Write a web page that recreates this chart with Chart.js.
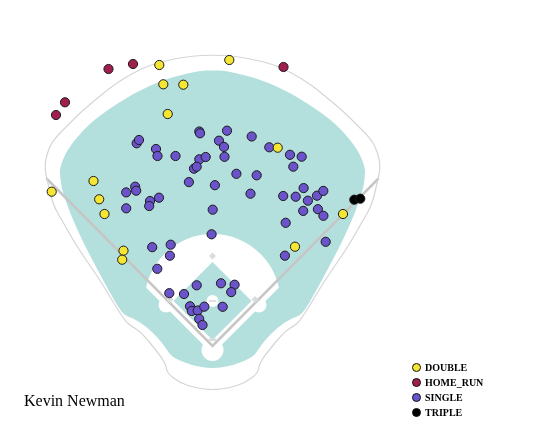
<!DOCTYPE html>
<html>
<head>
<meta charset="utf-8">
<script src="https://cdn.jsdelivr.net/npm/chart.js@4.4.1/dist/chart.umd.min.js"></script>
<style>
  html, body { margin: 0; padding: 0; background: #fff; }
  #wrap { position: relative; width: 552px; height: 425px; }
  #title { position: absolute; left: 24px; top: 393px; font: 16px "Liberation Serif", "Times New Roman", serif; line-height: 16px; color: #000; }
  #legend { position: absolute; left: 412px; top: 359.5px; font: bold 10px "Liberation Serif", "Times New Roman", serif; color: #000; }
  .row { height: 15px; line-height: 15px; white-space: nowrap; }
  .dot { display: inline-block; width: 7px; height: 7px; border: 1px solid #111; border-radius: 50%; vertical-align: -1px; margin-right: 4px; }
</style>
</head>
<body>
<div id="wrap">
  <canvas id="spray" width="552" height="425"></canvas>
  <div id="title"></div>
  <div id="legend"></div>
</div>
<script>
const playerName = 'Kevin Newman';
const eventTypes = ['DOUBLE', 'HOME_RUN', 'SINGLE', 'TRIPLE'];
const eventColors = ['#f6e634', '#a01f4e', '#6a53cb', '#000000'];

// hit locations (x, y)
const doubles = [
  [159.3, 65], [229.3, 60], [163.3, 84.3], [183.3, 84.7], [167.7, 114],
  [51.7, 191.7], [93.5, 181], [99.2, 199.3], [104.5, 214], [277.7, 147.7],
  [343, 214], [295, 246.7], [123.5, 250.7], [122.2, 259.7]
];
const homeRuns = [[108.5, 69], [133, 64], [65, 102.3], [56, 115], [283.5, 67]];
const singles = [
  [136.7, 143.3], [139, 140], [156, 149], [157.5, 156], [175.5, 156],
  [199.3, 131.5], [200, 133.3], [227, 130.7], [219, 140.7], [224, 146.9],
  [224.5, 156.8], [199.3, 159.3], [205.7, 157], [194, 168.7], [196.7, 166.7],
  [236.4, 173.8], [188.9, 182.1], [214.9, 185.2], [135.2, 186.7], [136.2, 190.7],
  [126.2, 192.4], [150, 201], [149.2, 206], [159, 197.7], [126.2, 208.3],
  [212.7, 209.7], [211.6, 234.3], [152.2, 247.2], [170.7, 244.7], [169.9, 255.7],
  [157.3, 268.8],
  [251.7, 136.5], [269.3, 147.3], [290, 154.8], [301.7, 156.7], [293.3, 166.7],
  [256.7, 175.3], [250.5, 193.7], [283.2, 196], [295.7, 196.7], [303.6, 188.1],
  [307.9, 200.7], [317, 195.7], [323.3, 190.9], [303.2, 210.9], [317.9, 209.2],
  [323.4, 215.8], [285.7, 222.8], [325.7, 241.8], [284.9, 255.7],
  [169.3, 293.2], [184, 294], [196.7, 285.3], [221, 283.3], [234.6, 284.7],
  [231.2, 292.1], [190, 306.3], [191.8, 311], [197.7, 310.5], [204.3, 306.7],
  [199.2, 318.9], [202.5, 325], [222.7, 306.8]
];
const triples = [[354.3, 199.7], [360.3, 198.7]];
const hitsByEvent = [doubles, homeRuns, singles, triples];

// field outline (left half, mirrored about the centre line)
const midX = 212.5;
const wallHalf = [
  [212.5, 55], [190, 56], [167, 60.5], [150, 65], [133, 73], [115, 84], [100, 96],
  [82, 111], [66, 127], [55, 138], [49, 148], [45.5, 160], [45, 170], [47, 179],
  [53, 205], [63, 222], [73, 240], [86, 260], [100, 280], [124, 320], [131, 326],
  [141, 332], [160, 355], [166, 365], [167, 373], [180, 383], [196, 388], [212.5, 390]
];
const grassHalf = [
  [212.5, 70.5], [200, 70.7], [167, 78.3], [133, 93.3], [100, 115], [83, 130],
  [67, 150], [60, 167], [60, 176], [62, 190], [70, 213], [82, 240], [95, 265],
  [110, 293], [123, 315], [133, 318], [147, 327], [160, 340], [167, 350],
  [172, 357], [190, 365], [212.5, 369]
];
const homePlate = [212.5, 346];
const bases = [[255, 299.5], [212.5, 256], [170, 299.5]];

function mirror(half) {
  const right = half.slice(1, -1).reverse().map(([x, y]) => [2 * midX - x, y]);
  return half.concat(right);
}

const fieldPlugin = {
  id: 'field',
  beforeDatasetsDraw(chart) {
    const c = chart.ctx;
    const sx = chart.scales.x, sy = chart.scales.y;
    const X = v => sx.getPixelForValue(v);
    const Y = v => sy.getPixelForValue(v);
    const k = X(1) - X(0);

    function smoothPath(pts) {
      const p = pts.map(([x, y]) => [X(x), Y(y)]);
      const n = p.length;
      const mid = (a, b) => [(a[0] + b[0]) / 2, (a[1] + b[1]) / 2];
      c.beginPath();
      let m = mid(p[n - 1], p[0]);
      c.moveTo(m[0], m[1]);
      for (let i = 0; i < n; i++) {
        const nx = mid(p[i], p[(i + 1) % n]);
        c.quadraticCurveTo(p[i][0], p[i][1], nx[0], nx[1]);
      }
      c.closePath();
    }
    function circle(x, y, r) {
      c.beginPath();
      c.arc(X(x), Y(y), r * k, 0, Math.PI * 2);
    }

    c.save();
    // grass
    c.fillStyle = '#b3dfdc';
    smoothPath(mirror(grassHalf));
    c.fill();

    // infield dirt, cut along the foul lines
    c.save();
    c.beginPath();
    c.moveTo(X(midX), Y(homePlate[1] + 8));
    c.lineTo(X(midX - 200), Y(homePlate[1] + 8 - 200));
    c.lineTo(X(midX + 200), Y(homePlate[1] + 8 - 200));
    c.closePath();
    c.clip();
    c.fillStyle = '#ffffff';
    circle(midX, 302, 68);
    c.fill();
    c.restore();
    c.fillStyle = '#ffffff';
    circle(166, 305, 7.5); c.fill();
    circle(259, 305, 7.5); c.fill();

    // infield grass
    c.fillStyle = '#b3dfdc';
    c.beginPath();
    c.moveTo(X(midX), Y(262));
    c.lineTo(X(midX + 39), Y(301));
    c.lineTo(X(midX), Y(340));
    c.lineTo(X(midX - 39), Y(301));
    c.closePath();
    c.fill();

    // home circle and mound
    c.fillStyle = '#ffffff';
    circle(midX, 350, 11); c.fill();
    circle(midX, 301, 6); c.fill();
    c.fillStyle = '#e2e2e2';
    c.fillRect(X(midX - 3.5), Y(300), 7 * k, 2 * k);

    // foul lines
    c.strokeStyle = '#c6c6c6';
    c.lineWidth = 2.5;
    c.lineCap = 'round';
    c.beginPath();
    c.moveTo(X(47), Y(179));
    c.lineTo(X(homePlate[0]), Y(homePlate[1]));
    c.lineTo(X(2 * midX - 47), Y(179));
    c.stroke();

    // bases
    c.fillStyle = '#dcdcdc';
    bases.forEach(([bx, by]) => {
      c.beginPath();
      c.moveTo(X(bx), Y(by - 3.5));
      c.lineTo(X(bx + 3.5), Y(by));
      c.lineTo(X(bx), Y(by + 3.5));
      c.lineTo(X(bx - 3.5), Y(by));
      c.closePath();
      c.fill();
    });
    c.fillRect(X(midX - 4), Y(338.5), 8 * k, 2.5 * k);

    // outer wall / stands outline
    c.strokeStyle = '#d5d5d5';
    c.lineWidth = 1.2;
    smoothPath(mirror(wallHalf));
    c.stroke();
    c.restore();
  }
};

new Chart(document.getElementById('spray'), {
  type: 'scatter',
  data: {
    datasets: eventTypes.map((name, i) => ({
      label: name,
      data: hitsByEvent[i].map(([x, y]) => ({ x, y })),
      backgroundColor: eventColors[i],
      borderColor: '#1c1c1c',
      borderWidth: 1,
      pointRadius: 4.6,
      pointHoverRadius: 4.6,
      clip: false
    }))
  },
  options: {
    responsive: false,
    animation: false,
    events: [],
    layout: { padding: 0, autoPadding: false },
    scales: {
      x: { type: 'linear', min: 0, max: 552, display: false },
      y: { type: 'linear', min: 0, max: 425, reverse: true, display: false }
    },
    plugins: { legend: { display: false }, tooltip: { enabled: false } }
  },
  plugins: [fieldPlugin]
});

document.getElementById('title').textContent = playerName;
document.getElementById('legend').innerHTML = eventTypes.map((name, i) =>
  `<div class="row"><span class="dot" style="background:${eventColors[i]}"></span>${name}</div>`
).join('');
</script>
</body>
</html>
